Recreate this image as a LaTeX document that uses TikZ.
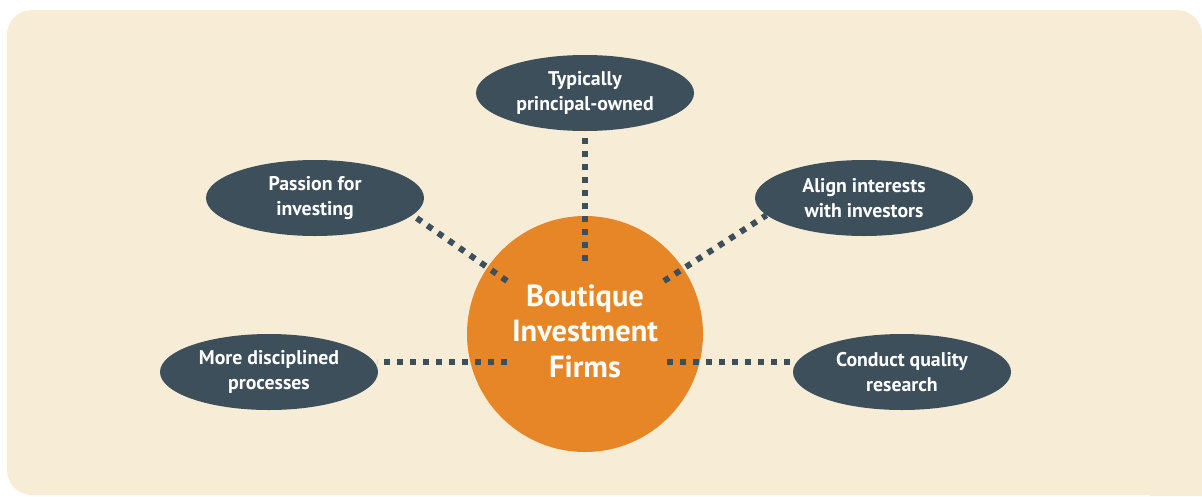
\documentclass[tikz,border=0pt]{standalone}
\usepackage{fontspec}
\setmainfont{PT Sans}
\usetikzlibrary{shapes.geometric}
\definecolor{panelbg}{HTML}{F7ECD6}
\definecolor{slate}{HTML}{3C4F5A}
\definecolor{hubor}{HTML}{E68627}
\pgfdeclarelayer{backdrop}
\pgfdeclarelayer{links}
\pgfsetlayers{backdrop,links,main}
\begin{document}
\begin{tikzpicture}[x=1pt,y=-1pt,
  oval/.style={ellipse, fill=slate, text=white, inner sep=0pt,
    minimum width=218pt, minimum height=76pt, align=center,
    font=\bfseries\fontsize{19.8}{24.5}\selectfont},
  hub/.style={circle, fill=hubor, inner sep=0pt, minimum size=236pt},
  hubtext/.style={text=white, align=center, inner sep=0pt,
    font=\bfseries\fontsize{30.5}{35.5}\selectfont},
  dotline/.style={draw=slate, line width=6pt, dash pattern=on 6pt off 7pt}]
\useasboundingbox (0,0) rectangle (1202,496);
\clip (0,0) rectangle (1202,496);
% satellites
\node[oval] (owned) at (585,93) {Typically\\principal-owned};
\node[oval] (passion) at (315,198) {Passion for\\investing};
\node[oval] (align) at (864,198) {Align interests\\with investors};
\node[oval] (discipl) at (269,372) {More disciplined\\processes};
\node[oval] (research) at (902,372) {Conduct quality\\research};
\node[hubtext] (title) at (585,331) {Boutique\\Investment\\Firms};
\begin{pgfonlayer}{backdrop}
  % panel
  \fill[panelbg, rounded corners=25pt] (7,10) rectangle (1202,495);
  \fill[panelbg] (1150,440) rectangle (1202,496);
  % hub
  \node[hub] (hub) at (585,334) {};
\end{pgfonlayer}
% inner ends of the dotted connectors
\coordinate (hN) at (585,261);
\coordinate (hNW) at (507,281);
\coordinate (hNE) at (664,281);
\coordinate (hW) at (507,362);
\coordinate (hE) at (667,362);
\coordinate (eW) at (377,362);
\coordinate (eE) at (792,362);
\begin{pgfonlayer}{links}
  \draw[dotline] (hN) -- (owned.south);
  \draw[dotline] (hNW) -- (passion.-10);
  \draw[dotline] (hNE) -- (align.190);
  \draw[dotline] (hW) -- (eW);
  \draw[dotline] (hE) -- (eE);
\end{pgfonlayer}
\end{tikzpicture}
\end{document}
